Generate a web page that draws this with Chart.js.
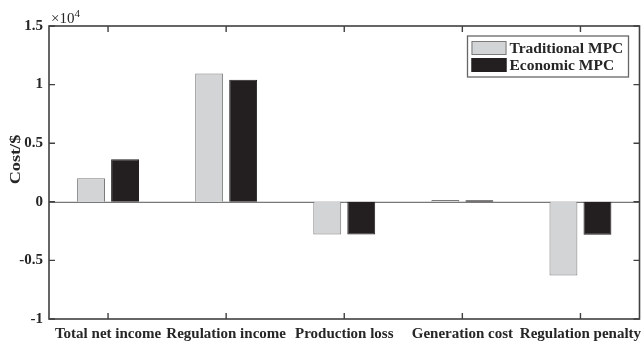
<!DOCTYPE html>
<html>
<head>
<meta charset="utf-8">
<script src="https://cdn.jsdelivr.net/npm/chart.js@4.4.0/dist/chart.umd.min.js"></script>
<style>
  html, body { margin: 0; padding: 0; background: #fff; }
  #wrap { width: 642px; height: 346px; }
</style>
</head>
<body>
<div id="wrap"><canvas id="costChart"></canvas></div>
<script>
// values (Cost/$)
var categories = ['Total net income', 'Regulation income', 'Production loss', 'Generation cost', 'Regulation penalty'];
var traditionalMPC = [2020, 10950, -2800, 150, -6290];
var economicMPC = [3640, 10410, -2780, 130, -2820];
var yTicks = [-10000, -5000, 0, 5000, 10000, 15000];

var serif = 'Liberation Serif';
var axisColor = '#404040';
var textColor = '#262626';

var frame = {
  id: 'frame',
  beforeDatasetsDraw: function(chart) {
    var c = chart.ctx, a = chart.chartArea, y0 = chart.scales.y.getPixelForValue(0);
    c.save();
    c.strokeStyle = '#555';
    c.lineWidth = 1;
    c.beginPath();
    c.moveTo(a.left, y0 + 0.5);
    c.lineTo(a.right, y0 + 0.5);
    c.stroke();
    c.restore();
  },
  afterDraw: function(chart) {
    var c = chart.ctx, a = chart.chartArea;
    var xs = chart.scales.x, ys = chart.scales.y;
    c.save();
    c.strokeStyle = axisColor;
    c.lineWidth = 1.6;
    c.strokeRect(a.left, a.top, a.right - a.left, a.bottom - a.top);
    c.lineWidth = 1.4;
    c.beginPath();
    for (var i = 0; i < categories.length; i++) {
      var px = xs.getPixelForValue(i);
      c.moveTo(px, a.bottom); c.lineTo(px, a.bottom - 6);
      c.moveTo(px, a.top); c.lineTo(px, a.top + 6);
    }
    yTicks.forEach(function(v) {
      var py = ys.getPixelForValue(v);
      c.moveTo(a.left, py); c.lineTo(a.left + 6, py);
      c.moveTo(a.right, py); c.lineTo(a.right - 6, py);
    });
    c.stroke();

    // y axis title, a bit stretched along its length like the original
    c.save();
    c.translate(16, (a.top + a.bottom) / 2 - 13);
    c.rotate(-Math.PI / 2);
    c.scale(1.3, 1);
    c.fillStyle = textColor;
    c.font = 'bold 14px ' + serif;
    c.textAlign = 'center';
    c.textBaseline = 'middle';
    c.fillText('Cost/$', 0, 0);
    c.restore();

    // exponent label
    c.fillStyle = textColor;
    c.textBaseline = 'alphabetic';
    c.textAlign = 'left';
    c.font = '15px ' + serif;
    c.fillText('\u00d710', a.left + 2, 23);
    var w = c.measureText('\u00d710').width;
    c.font = '11px ' + serif;
    c.fillText('4', a.left + 2 + w, 17);

    // legend
    var lx = a.right - 172, ly = a.top + 10;
    c.fillStyle = '#fff';
    c.fillRect(lx, ly, 161, 41);
    c.strokeStyle = '#666';
    c.lineWidth = 1.3;
    c.strokeRect(lx, ly, 161, 41);
    chart.data.datasets.forEach(function(ds, k) {
      var sy = ly + 5 + k * 17;
      c.fillStyle = ds.backgroundColor;
      c.fillRect(lx + 4, sy, 35, 14);
      c.strokeStyle = ds.borderColor;
      c.lineWidth = 1;
      c.strokeRect(lx + 4.5, sy + 0.5, 34, 13);
      c.fillStyle = textColor;
      c.font = 'bold 15.5px ' + serif;
      c.textBaseline = 'middle';
      c.fillText(ds.label, lx + 42, sy + 7.5);
    });
    c.restore();
  }
};

new Chart(document.getElementById('costChart'), {
  type: 'bar',
  data: {
    labels: categories,
    datasets: [{
      label: 'Traditional MPC',
      data: traditionalMPC,
      backgroundColor: '#d3d4d6',
      borderColor: '#7a7a7a',
      borderWidth: 1
    }, {
      label: 'Economic MPC',
      data: economicMPC,
      backgroundColor: '#231f20',
      borderColor: '#231f20',
      borderWidth: 1
    }]
  },
  options: {
    responsive: true,
    maintainAspectRatio: false,
    animation: false,
    layout: { padding: { top: 26, right: 2.5, left: 0, bottom: 0 } },
    datasets: { bar: { categoryPercentage: 0.576, barPercentage: 0.82 } },
    plugins: {
      legend: { display: false },
      tooltip: { enabled: false }
    },
    scales: {
      x: {
        offset: true,
        grid: { display: false, drawTicks: false },
        border: { display: false },
        ticks: {
          color: textColor,
          padding: 6,
          maxRotation: 0,
          autoSkip: false,
          font: { family: serif, size: 15, weight: 'bold' }
        },
        afterFit: function(s) {
          s.height = 27;
          s.paddingLeft = 0;
          s.paddingRight = 0;
        }
      },
      y: {
        min: -10000,
        max: 15000,
        afterBuildTicks: function(s) { s.ticks = yTicks.map(function(v) { return { value: v }; }); },
        grid: { display: false, drawTicks: false },
        border: { display: false },
        ticks: {
          color: textColor,
          padding: 6,
          font: { family: serif, size: 15, weight: 'bold' },
          callback: function(v) { return String(v / 10000); }
        },
        afterFit: function(s) {
          s.width = 49;
          s.paddingTop = 0;
          s.paddingBottom = 0;
        }
      }
    }
  },
  plugins: [frame]
});
</script>
</body>
</html>
